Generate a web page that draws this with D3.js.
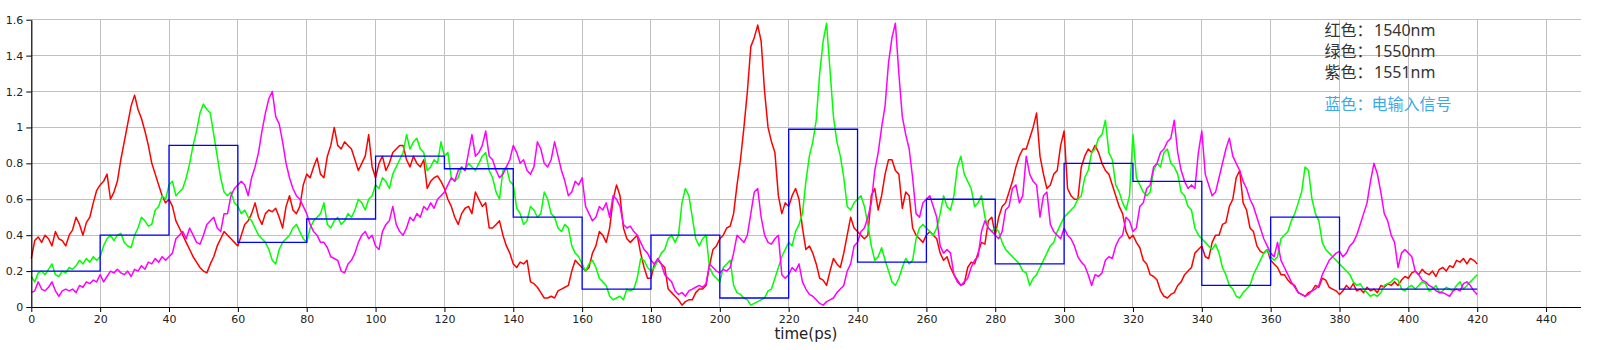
<!DOCTYPE html>
<html><head><meta charset="utf-8">
<script src="https://cdn.jsdelivr.net/npm/d3@7"></script>
<style>html,body{margin:0;padding:0;background:#fff;} svg{display:block;}</style>
</head><body>
<svg id="chart" width="1600" height="350"></svg>
<script>
// Time step: one sample per ps, t = 0 .. 420
const red1540 = [
0.27,0.37,0.39,0.36,0.40,0.38,0.34,0.42,0.38,0.37,
0.34,0.40,0.43,0.50,0.46,0.40,0.47,0.50,0.58,0.65,
0.68,0.70,0.74,0.60,0.64,0.70,0.82,0.92,1.02,1.12,
1.18,1.10,1.05,0.98,0.90,0.80,0.74,0.68,0.62,0.58,
0.60,0.56,0.48,0.44,0.40,0.36,0.32,0.28,0.25,0.22,
0.20,0.19,0.24,0.28,0.34,0.38,0.42,0.40,0.38,0.36,
0.34,0.40,0.46,0.48,0.52,0.58,0.50,0.46,0.52,0.54,
0.53,0.55,0.50,0.44,0.56,0.62,0.54,0.52,0.56,0.68,
0.74,0.72,0.78,0.83,0.74,0.72,0.84,0.90,1.00,0.90,
0.88,0.92,0.90,0.88,0.82,0.76,0.80,0.84,0.96,0.78,
0.72,0.80,0.84,0.76,0.80,0.86,0.88,0.90,0.90,0.82,
0.78,0.84,0.80,0.78,0.82,0.66,0.70,0.72,0.73,0.70,
0.66,0.60,0.56,0.50,0.46,0.52,0.55,0.56,0.52,0.64,
0.60,0.56,0.58,0.44,0.44,0.46,0.48,0.40,0.34,0.30,
0.24,0.22,0.25,0.24,0.26,0.14,0.13,0.11,0.08,0.05,
0.05,0.06,0.05,0.09,0.10,0.11,0.12,0.20,0.26,0.24,
0.22,0.20,0.22,0.30,0.34,0.42,0.40,0.36,0.44,0.60,
0.68,0.62,0.44,0.38,0.36,0.38,0.40,0.30,0.22,0.16,
0.16,0.24,0.26,0.24,0.22,0.10,0.08,0.06,0.04,0.01,
0.03,0.04,0.04,0.08,0.10,0.10,0.12,0.23,0.32,0.34,
0.38,0.40,0.44,0.45,0.52,0.68,0.82,1.00,1.20,1.45,
1.50,1.57,1.48,1.20,1.00,0.92,0.86,0.62,0.52,0.58,
0.56,0.62,0.66,0.60,0.44,0.32,0.34,0.30,0.24,0.16,
0.15,0.12,0.20,0.27,0.24,0.22,0.30,0.40,0.50,0.44,
0.42,0.40,0.38,0.40,0.62,0.66,0.54,0.62,0.74,0.82,
0.82,0.76,0.74,0.55,0.64,0.62,0.44,0.40,0.38,0.36,
0.40,0.42,0.40,0.38,0.30,0.26,0.28,0.22,0.18,0.15,
0.12,0.13,0.22,0.25,0.24,0.30,0.36,0.35,0.48,0.50,
0.40,0.50,0.56,0.58,0.64,0.70,0.78,0.84,0.88,0.88,
0.94,1.00,1.08,0.84,0.74,0.66,0.68,0.74,0.76,0.90,
0.98,0.66,0.62,0.60,0.60,0.78,0.84,0.88,0.86,0.90,
0.86,0.80,0.76,0.74,0.68,0.62,0.56,0.52,0.42,0.38,
0.40,0.36,0.33,0.26,0.24,0.18,0.17,0.15,0.09,0.06,
0.05,0.07,0.08,0.12,0.14,0.18,0.20,0.22,0.30,0.32,
0.34,0.28,0.27,0.36,0.40,0.40,0.46,0.47,0.56,0.60,
0.72,0.76,0.58,0.54,0.44,0.42,0.34,0.31,0.30,0.32,
0.26,0.24,0.22,0.18,0.18,0.15,0.13,0.12,0.08,0.07,
0.06,0.08,0.09,0.12,0.11,0.16,0.15,0.11,0.10,0.09,
0.07,0.09,0.12,0.10,0.13,0.09,0.10,0.08,0.11,0.09,
0.10,0.08,0.12,0.11,0.13,0.12,0.14,0.12,0.15,0.17,
0.16,0.19,0.20,0.18,0.21,0.19,0.18,0.20,0.17,0.21,
0.22,0.20,0.23,0.22,0.26,0.25,0.27,0.24,0.27,0.26,
0.24];

const green1550 = [
0.17,0.14,0.19,0.20,0.18,0.21,0.24,0.18,0.17,0.20,
0.19,0.22,0.21,0.23,0.26,0.24,0.27,0.25,0.28,0.26,
0.28,0.34,0.38,0.40,0.37,0.40,0.41,0.36,0.34,0.33,
0.40,0.44,0.50,0.48,0.45,0.46,0.54,0.56,0.62,0.60,
0.68,0.70,0.62,0.64,0.66,0.72,0.80,0.90,0.98,1.08,
1.13,1.10,1.08,0.96,0.84,0.72,0.64,0.62,0.64,0.58,
0.56,0.52,0.54,0.50,0.48,0.44,0.40,0.38,0.36,0.32,
0.26,0.24,0.32,0.36,0.38,0.40,0.44,0.46,0.42,0.38,
0.36,0.44,0.48,0.50,0.52,0.58,0.46,0.44,0.48,0.50,
0.46,0.48,0.52,0.50,0.54,0.60,0.58,0.54,0.60,0.62,
0.68,0.66,0.72,0.70,0.66,0.74,0.78,0.82,0.86,0.96,
0.88,0.92,0.94,0.88,0.86,0.76,0.78,0.82,0.80,0.92,
0.84,0.86,0.72,0.70,0.72,0.78,0.76,0.80,0.78,0.76,
0.80,0.84,0.86,0.76,0.72,0.64,0.60,0.76,0.78,0.70,
0.68,0.55,0.52,0.46,0.48,0.56,0.54,0.50,0.52,0.64,
0.60,0.52,0.50,0.44,0.42,0.46,0.44,0.34,0.30,0.28,
0.24,0.20,0.24,0.26,0.22,0.16,0.14,0.12,0.06,0.04,
0.05,0.06,0.04,0.10,0.09,0.10,0.16,0.27,0.26,0.22,
0.20,0.22,0.26,0.30,0.32,0.38,0.40,0.36,0.40,0.58,
0.66,0.62,0.50,0.38,0.34,0.38,0.40,0.22,0.18,0.16,
0.14,0.22,0.24,0.26,0.12,0.08,0.07,0.05,0.04,0.01,
0.02,0.03,0.04,0.05,0.09,0.10,0.16,0.22,0.28,0.32,
0.36,0.34,0.42,0.46,0.52,0.70,0.84,0.92,1.04,1.30,
1.48,1.58,1.32,1.06,0.92,0.84,0.72,0.56,0.54,0.58,
0.60,0.62,0.56,0.46,0.34,0.26,0.28,0.33,0.26,0.20,
0.14,0.12,0.16,0.22,0.27,0.24,0.26,0.38,0.44,0.46,
0.44,0.42,0.40,0.44,0.52,0.62,0.56,0.54,0.62,0.78,
0.84,0.74,0.70,0.66,0.56,0.58,0.62,0.50,0.44,0.42,
0.44,0.42,0.36,0.32,0.30,0.28,0.26,0.24,0.20,0.19,
0.12,0.16,0.18,0.22,0.26,0.30,0.34,0.36,0.42,0.46,
0.50,0.52,0.54,0.56,0.60,0.62,0.72,0.76,0.86,0.88,
0.94,0.96,1.04,0.86,0.82,0.68,0.64,0.58,0.54,0.62,
0.96,0.72,0.68,0.64,0.62,0.64,0.76,0.80,0.78,0.86,
0.88,0.80,0.78,0.74,0.64,0.62,0.56,0.54,0.44,0.40,
0.38,0.36,0.34,0.32,0.35,0.30,0.22,0.18,0.12,0.10,
0.06,0.05,0.08,0.10,0.12,0.18,0.22,0.26,0.30,0.32,
0.28,0.26,0.28,0.38,0.40,0.42,0.48,0.52,0.58,0.64,
0.78,0.76,0.60,0.52,0.48,0.36,0.32,0.30,0.28,0.26,
0.24,0.22,0.20,0.18,0.14,0.12,0.13,0.10,0.08,0.06,
0.07,0.06,0.08,0.12,0.13,0.14,0.16,0.15,0.10,0.09,
0.11,0.12,0.10,0.12,0.14,0.13,0.09,0.10,0.12,0.08,
0.09,0.11,0.10,0.09,0.12,0.14,0.10,0.12,0.14,0.16,
0.18];

const magenta1551 = [
0.08,0.09,0.14,0.10,0.09,0.11,0.14,0.09,0.06,0.09,
0.10,0.09,0.10,0.08,0.12,0.11,0.14,0.13,0.15,0.14,
0.18,0.14,0.17,0.20,0.19,0.21,0.19,0.18,0.20,0.17,
0.21,0.20,0.23,0.21,0.25,0.24,0.27,0.25,0.28,0.26,
0.28,0.30,0.38,0.40,0.42,0.38,0.44,0.40,0.36,0.35,
0.40,0.46,0.48,0.50,0.44,0.42,0.52,0.52,0.62,0.66,
0.68,0.70,0.68,0.62,0.72,0.78,0.86,0.98,1.08,1.16,
1.20,1.06,1.02,0.92,0.80,0.72,0.66,0.62,0.60,0.56,
0.52,0.46,0.42,0.40,0.36,0.36,0.33,0.28,0.27,0.26,
0.20,0.19,0.24,0.26,0.30,0.36,0.40,0.42,0.38,0.40,
0.34,0.32,0.42,0.46,0.48,0.56,0.46,0.42,0.40,0.44,
0.50,0.48,0.52,0.50,0.56,0.54,0.58,0.55,0.60,0.62,
0.64,0.68,0.72,0.70,0.76,0.78,0.76,0.86,0.96,0.84,
0.86,0.90,0.98,0.84,0.82,0.76,0.72,0.74,0.78,0.82,
0.90,0.86,0.80,0.82,0.76,0.74,0.78,0.92,0.88,0.80,
0.78,0.82,0.92,0.84,0.76,0.70,0.62,0.64,0.70,0.68,
0.72,0.56,0.52,0.48,0.50,0.56,0.54,0.58,0.50,0.62,
0.60,0.56,0.46,0.44,0.45,0.42,0.40,0.36,0.32,0.30,
0.26,0.24,0.27,0.24,0.18,0.16,0.14,0.09,0.07,0.08,
0.06,0.09,0.10,0.11,0.12,0.11,0.13,0.24,0.22,0.20,
0.19,0.21,0.20,0.22,0.30,0.40,0.38,0.36,0.40,0.52,
0.64,0.66,0.50,0.40,0.36,0.35,0.38,0.40,0.18,0.16,
0.18,0.22,0.20,0.24,0.14,0.10,0.07,0.06,0.04,0.02,
0.01,0.03,0.04,0.05,0.08,0.10,0.12,0.20,0.24,0.34,
0.36,0.42,0.44,0.50,0.58,0.76,0.86,1.00,1.12,1.36,
1.50,1.58,1.30,1.06,0.96,0.88,0.72,0.52,0.50,0.58,
0.60,0.62,0.56,0.50,0.34,0.30,0.32,0.30,0.18,0.14,
0.12,0.14,0.16,0.22,0.26,0.28,0.42,0.48,0.44,0.42,
0.40,0.38,0.42,0.54,0.56,0.66,0.68,0.58,0.62,0.84,
0.74,0.70,0.68,0.50,0.62,0.64,0.46,0.42,0.40,0.38,
0.44,0.40,0.38,0.34,0.28,0.25,0.23,0.18,0.12,0.18,
0.17,0.19,0.26,0.28,0.27,0.34,0.38,0.40,0.50,0.48,
0.42,0.44,0.56,0.58,0.66,0.68,0.78,0.80,0.86,0.88,
0.92,0.94,1.04,0.86,0.76,0.70,0.66,0.68,0.66,0.86,
0.98,0.74,0.68,0.62,0.64,0.72,0.80,0.88,0.94,0.84,
0.80,0.76,0.70,0.66,0.60,0.56,0.50,0.44,0.38,0.34,
0.30,0.28,0.36,0.26,0.22,0.18,0.14,0.11,0.08,0.07,
0.06,0.07,0.09,0.10,0.12,0.18,0.22,0.26,0.28,0.30,
0.31,0.28,0.30,0.34,0.36,0.40,0.46,0.52,0.58,0.70,
0.80,0.74,0.64,0.52,0.48,0.40,0.36,0.22,0.30,0.32,
0.30,0.28,0.20,0.18,0.15,0.14,0.12,0.11,0.09,0.08,
0.08,0.07,0.06,0.09,0.10,0.09,0.13,0.14,0.12,0.09,
0.07];

// Electrical input signal (step levels, each held for 20 ps)
const blueStepTimes  = [0,20,40,60,80,100,120,140,160,180,200,220,240,260,280,300,320,340,360,380,400,420];
const blueStepValues = [0.20,0.40,0.90,0.36,0.49,0.84,0.77,0.50,0.10,0.40,0.05,0.99,0.25,0.60,0.24,0.80,0.70,0.12,0.50,0.10,0.10,0.10];

const xTickValues = [0,20,40,60,80,100,120,140,160,180,200,220,240,260,280,300,320,340,360,380,400,420,440];
const yTickValues = [0,0.2,0.4,0.6,0.8,1.0,1.2,1.4,1.6];
const yTickLabels = ["0","0.2","0.4","0.6","0.8","1","1.2","1.4","1.6"];
const xAxisTitle = "time(ps)";
const legendNames = ["红色：","绿色：","紫色："];
const legendWaves = ["1540nm","1550nm","1551nm"];
const legendBlueName = "蓝色：";
const legendBlueText = "电输入信号";

const svg = d3.select("#chart");
svg.append("rect").attr("width",1600).attr("height",350).attr("fill","#fff");

const x = d3.scaleLinear().domain([0,450]).range([31.3,1580.5]);
const y = d3.scaleLinear().domain([0,1.6]).range([307,19.7]);

// grid
const grid = svg.append("g").attr("stroke","#c0c0c0").attr("stroke-width",1).attr("shape-rendering","crispEdges");
grid.selectAll("line.v").data(xTickValues.filter(d=>d>0)).join("line")
  .attr("x1",d=>x(d)).attr("x2",d=>x(d)).attr("y1",y(0)).attr("y2",y(1.6));
grid.selectAll("line.h").data(yTickValues.filter(d=>d>0)).join("line")
  .attr("x1",x(0)).attr("x2",x(450)).attr("y1",d=>y(d)).attr("y2",d=>y(d));

// series
const lineGen = d3.line().x((d,i)=>x(i)).y(d=>y(d));
const series = [
  {vals: red1540, color:"#ff0000"},
  {vals: green1550, color:"#00ff00"},
  {vals: magenta1551, color:"#ff00ff"}
];
series.forEach(s=>{
  svg.append("path").datum(s.vals).attr("d",lineGen)
    .attr("fill","none").attr("stroke",s.color).attr("stroke-width",1.5).attr("stroke-linejoin","round");
});

const stepLine = d3.line().x((d,i)=>x(blueStepTimes[i])).y(d=>y(d)).curve(d3.curveStepAfter);
svg.append("path").datum(blueStepValues).attr("d",stepLine)
  .attr("fill","none").attr("stroke","#0000ff").attr("stroke-width",1.3);

// axes
const fontTick = "'DejaVu Sans', Verdana, sans-serif";
const xAxis = d3.axisBottom(x).tickValues(xTickValues).tickFormat(d3.format("d")).tickSize(5).tickSizeOuter(0).tickPadding(3);
const gx = svg.append("g").attr("transform",`translate(0,${y(0)})`).call(xAxis);
const yAxis = d3.axisLeft(y).tickValues(yTickValues).tickFormat((d,i)=>yTickLabels[i]).tickSize(5).tickSizeOuter(0).tickPadding(3);
const gy = svg.append("g").attr("transform",`translate(${x(0)},0)`).call(yAxis);
[gx,gy].forEach(g=>{
  g.attr("font-family",fontTick).attr("font-size",11);
  g.selectAll("text").attr("fill","#222");
  g.selectAll("line").attr("stroke","#000");
  g.select(".domain").attr("stroke","#000").attr("stroke-width",1.2);
});

svg.append("text").attr("x",(x(0)+x(450))/2).attr("y",339)
  .attr("text-anchor","middle").attr("font-family",fontTick).attr("font-size",15).attr("fill","#222")
  .text(xAxisTitle);

// legend text
const cjkFont = "'Noto Sans CJK SC', sans-serif";
const latFont = "'Noto Sans', 'Open Sans', sans-serif";
const legendY = [35.5,56.5,78];
legendNames.forEach((t,i)=>{
  svg.append("text").attr("x",1324.5).attr("y",legendY[i]).attr("font-family",cjkFont)
    .attr("font-size",16).attr("fill","#333").text(t);
  svg.append("text").attr("x",1374).attr("y",legendY[i]).attr("font-family",latFont)
    .attr("font-size",16).attr("fill","#333").text(legendWaves[i]);
});
svg.append("text").attr("x",1324.5).attr("y",109.5).attr("font-family",cjkFont)
  .attr("font-size",16).attr("fill","#3fa9e6").text(legendBlueName);
svg.append("text").attr("x",1371.5).attr("y",109.5).attr("font-family",cjkFont)
  .attr("font-size",16).attr("fill","#3fa9e6").text(legendBlueText);
</script>
</body></html>
